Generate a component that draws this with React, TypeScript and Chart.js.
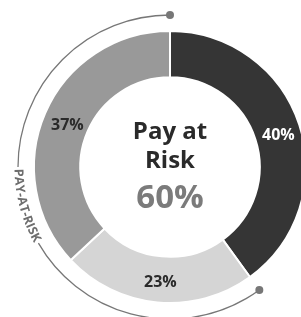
import React, { useEffect, useRef } from "react";
import { Chart, registerables } from "chart.js";

Chart.register(...registerables);

const categories = ["Segment A", "Segment B", "Segment C"];
const values = [40, 23, 37];
const valueLabels = ["40%", "23%", "37%"];
const segmentColors = ["#353535", "#d5d5d5", "#999999"];
const labelColors = ["#ffffff", "#2a2a2a", "#2a2a2a"];
const centerLines = ["Pay at", "Risk"];
const centerValue = "60%";
const arcLabel = "PAY-AT-RISK";
const arcShare = 60; // percent of circle covered by the annotation arc

const FONT = "'Open Sans', 'Noto Sans', sans-serif";

const overlayPlugin = {
  id: "overlay",
  afterDatasetsDraw(chart: any) {
    const { ctx } = chart;
    const meta = chart.getDatasetMeta(0);
    const arcs = meta.data;
    if (!arcs.length) return;
    const a0 = arcs[0];
    const cx = a0.x;
    const cy = a0.y;
    const outer = a0.outerRadius;

    // value labels
    ctx.save();
    ctx.font = `700 16px ${FONT}`;
    ctx.textAlign = "center";
    ctx.textBaseline = "middle";
    arcs.forEach((arc: any, i: number) => {
      const p = arc.tooltipPosition();
      ctx.fillStyle = labelColors[i];
      ctx.fillText(valueLabels[i], p.x + 1, p.y + 3);
    });

    // center text
    ctx.fillStyle = "#2a2a2a";
    ctx.font = `700 24px ${FONT}`;
    ctx.fillText(centerLines[0], cx, cy - 35);
    ctx.fillText(centerLines[1], cx, cy - 6);
    ctx.fillStyle = "#7b7b7b";
    ctx.font = `700 33px ${FONT}`;
    ctx.fillText(centerValue, cx, cy + 32);
    ctx.restore();

    // annotation arc
    const r = outer + 16;
    const start = -Math.PI / 2; // top
    const end = start - (arcShare / 100) * Math.PI * 2; // going counter-clockwise
    ctx.save();
    ctx.font = `700 12.5px ${FONT}`;
    const spacing = 0;
    const chars = arcLabel.split("");
    const widths = chars.map((c) => ctx.measureText(c).width + spacing);
    const total = widths.reduce((s, w) => s + w, 0);
    const textSpan = total / r;
    const textMid = (165 * Math.PI) / 180;
    const tStart = textMid + textSpan / 2; // upper end (larger angle)
    const tEnd = textMid - textSpan / 2;
    const gap = 2 / r;

    ctx.strokeStyle = "#777777";
    ctx.lineWidth = 1.3;
    ctx.beginPath();
    ctx.arc(cx, cy, r, start, tStart + gap - Math.PI * 2, true);
    ctx.stroke();
    ctx.beginPath();
    ctx.arc(cx, cy, r, tEnd - gap, end + Math.PI * 2, true);
    ctx.stroke();

    // dots
    ctx.fillStyle = "#777777";
    [start, end].forEach((ang) => {
      ctx.beginPath();
      ctx.arc(cx + r * Math.cos(ang), cy + r * Math.sin(ang), 4, 0, Math.PI * 2);
      ctx.fill();
    });

    // curved text
    ctx.fillStyle = "#6e6e6e";
    ctx.textAlign = "center";
    ctx.textBaseline = "middle";
    let ang = tStart;
    chars.forEach((c, i) => {
      const w = widths[i];
      const a = ang - w / 2 / r;
      ctx.save();
      ctx.translate(cx + r * Math.cos(a), cy + r * Math.sin(a));
      ctx.rotate(a - Math.PI / 2);
      ctx.fillText(c, 0, 0);
      ctx.restore();
      ang -= w / r;
    });
    ctx.restore();
  },
};

export default function App() {
  const canvasRef = useRef<HTMLCanvasElement | null>(null);

  useEffect(() => {
    if (!canvasRef.current) return;
    const chart = new Chart(canvasRef.current, {
      type: "doughnut",
      data: {
        labels: categories,
        datasets: [
          {
            data: values,
            backgroundColor: segmentColors,
            borderColor: "#ffffff",
            borderWidth: 2,
            hoverOffset: 0,
          },
        ],
      },
      options: {
        animation: false,
        responsive: true,
        maintainAspectRatio: false,
        cutout: "66%",
        layout: { padding: { top: 30, bottom: 13, left: 0, right: 0 } },
        plugins: {
          legend: { display: false },
          tooltip: { enabled: false },
        },
      },
      plugins: [overlayPlugin],
    });
    return () => chart.destroy();
  }, []);

  return (
    <div
      style={{
        position: "fixed",
        left: 0,
        top: 0,
        width: 301,
        height: 317,
        overflow: "hidden",
        background: "#ffffff",
      }}
    >
      <div style={{ position: "absolute", left: 0, top: 0, width: 340, height: 317 }}>
        <canvas ref={canvasRef} />
      </div>
    </div>
  );
}
